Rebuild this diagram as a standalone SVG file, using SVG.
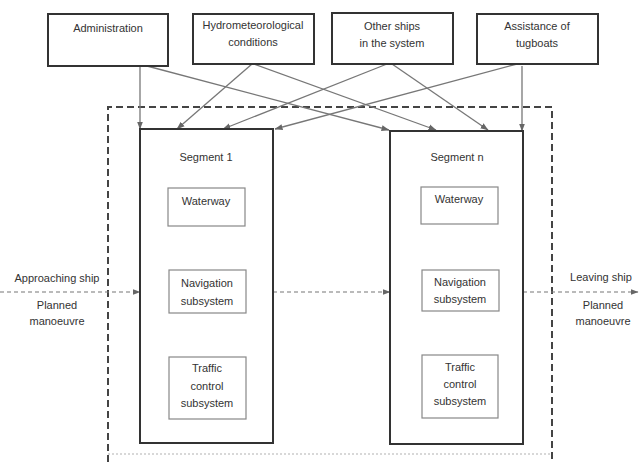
<svg xmlns="http://www.w3.org/2000/svg" width="640" height="462" viewBox="0 0 640 462">
<defs>
<style>
text{font-family:"Liberation Sans",Arial,sans-serif;font-size:11px;fill:#333;text-anchor:middle}
.top{fill:#fff;stroke:#333;stroke-width:2}
.seg{fill:#fff;stroke:#333;stroke-width:2}
.inner{fill:#fff;stroke:#888;stroke-width:1.2}
.con{stroke:#777;stroke-width:1.3;fill:none;marker-end:url(#ah)}
.flow{stroke:#777;stroke-width:1.2;fill:none;stroke-dasharray:4 3;marker-end:url(#ah)}
.frame{stroke:#444;stroke-width:2;fill:none;stroke-dasharray:7 4}
</style>
<marker id="ah" markerUnits="userSpaceOnUse" markerWidth="8" markerHeight="8" viewBox="0 0 8 8" refX="7.5" refY="4" orient="auto">
<path d="M0,1 L8,4 L0,7 Z" fill="#666"/>
</marker>
</defs>
<rect width="640" height="462" fill="#fff"/>

<g id="frame">
<path class="frame" d="M108,462 V107 H552 V462"/>
<line x1="108" y1="454" x2="552" y2="454" stroke="#ccc" stroke-width="1.5" stroke-dasharray="2 2"/>
</g>

<g id="connectors">
<line class="con" x1="140" y1="66" x2="140" y2="129"/>
<line class="con" x1="147" y1="66" x2="389" y2="130"/>
<line class="con" x1="252" y1="64" x2="177" y2="129"/>
<line class="con" x1="254" y1="64" x2="436" y2="130"/>
<line class="con" x1="387" y1="64" x2="223" y2="129"/>
<line class="con" x1="392" y1="64" x2="488" y2="130"/>
<line class="con" x1="517" y1="64" x2="275" y2="129"/>
<line class="con" x1="522" y1="66" x2="522" y2="131"/>
<line class="flow" x1="0" y1="292" x2="140" y2="292"/>
<line class="flow" x1="273" y1="292" x2="390" y2="292"/>
<line class="flow" x1="523" y1="292" x2="638" y2="292"/>
</g>

<g id="administration">
<rect class="top" x="48" y="14" width="120" height="52"/>
<text x="108" y="32">Administration</text>
</g>
<g id="hydrometeorological">
<rect class="top" x="193" y="14" width="121" height="50"/>
<text x="253" y="29">Hydrometeorological</text>
<text x="253" y="46">conditions</text>
</g>
<g id="other-ships">
<rect class="top" x="332" y="13" width="121" height="51"/>
<text x="392" y="30">Other ships</text>
<text x="392" y="47">in the system</text>
</g>
<g id="tugboats">
<rect class="top" x="477" y="14" width="121" height="50"/>
<text x="537" y="30">Assistance of</text>
<text x="537" y="47">tugboats</text>
</g>

<g id="segment-1">
<rect class="seg" x="140" y="129" width="133" height="314"/>
<text x="206" y="161">Segment 1</text>
<rect class="inner" x="168" y="188" width="77" height="38"/>
<text x="206" y="205">Waterway</text>
<rect class="inner" x="169" y="270" width="77" height="43"/>
<text x="207" y="287">Navigation</text>
<text x="207" y="305">subsystem</text>
<rect class="inner" x="169" y="357" width="77" height="62"/>
<text x="207" y="372">Traffic</text>
<text x="207" y="390">control</text>
<text x="207" y="407">subsystem</text>
</g>

<g id="segment-n">
<rect class="seg" x="390" y="131" width="133" height="313"/>
<text x="457" y="161">Segment n</text>
<rect class="inner" x="421" y="187" width="77" height="37"/>
<text x="459" y="203">Waterway</text>
<rect class="inner" x="422" y="270" width="77" height="41"/>
<text x="460" y="286">Navigation</text>
<text x="460" y="303">subsystem</text>
<rect class="inner" x="422" y="355" width="76" height="63"/>
<text x="460" y="371">Traffic</text>
<text x="460" y="388">control</text>
<text x="460" y="405">subsystem</text>
</g>

<g id="approaching">
<text x="57" y="282">Approaching ship</text>
<text x="57" y="309">Planned</text>
<text x="57" y="325">manoeuvre</text>
</g>
<g id="leaving">
<text x="601" y="281">Leaving ship</text>
<text x="603" y="309">Planned</text>
<text x="603" y="325">manoeuvre</text>
</g>
</svg>
